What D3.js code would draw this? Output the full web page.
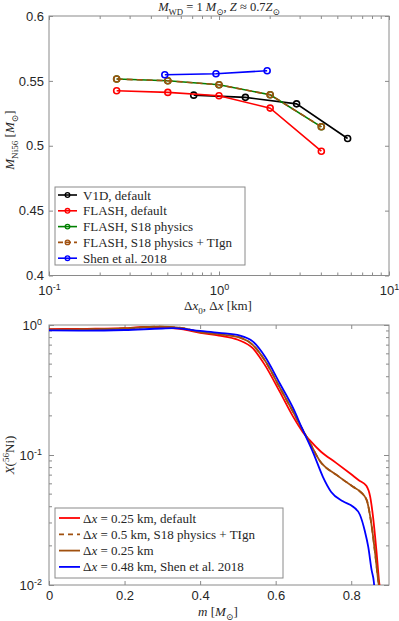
<!DOCTYPE html>
<meta charset="utf-8">
<script src="https://d3js.org/d3.v7.min.js"></script>
<style>
  body { margin: 0; background: #fff; }
  text { font-family: "Liberation Sans", Arial, sans-serif; }
  .tex { font-family: "Liberation Serif", "DejaVu Serif", serif; }
</style>
<div id="my_dataviz"></div>
<script>
// ---- top panel data : M_Ni56 vs resolution
var v1dRes = [0.71, 1.43, 2.86, 5.71];
var v1dNi = [0.539, 0.5373, 0.5323, 0.5056];
var flashRes = [0.25, 0.5, 1, 2, 4];
var flashDefaultNi = [0.5424, 0.5411, 0.5385, 0.529, 0.4958];
var flashS18Ni = [0.5514, 0.5501, 0.547, 0.5393, 0.5146];
var flashTIgnNi = [0.5514, 0.5501, 0.547, 0.5393, 0.5146];
var shenRes = [0.48, 0.96, 1.92];
var shenNi = [0.5547, 0.5555, 0.5578];
var topYTicks = [0.4, 0.45, 0.5, 0.55, 0.6];
var topXTicks = [0.1, 1, 10];

// ---- bottom panel data : X(56Ni) vs mass coordinate
var mDefault = [0, 0.1, 0.2, 0.25, 0.3, 0.35, 0.4, 0.45, 0.5, 0.54, 0.57, 0.61, 0.645, 0.672, 0.69, 0.72, 0.76, 0.8, 0.82, 0.84, 0.85, 0.858, 0.867, 0.874, 0.877];
var xDefault = [0.93, 0.935, 0.945, 0.965, 0.955, 0.93, 0.87, 0.83, 0.77, 0.66, 0.5, 0.31, 0.2, 0.15, 0.13, 0.106, 0.087, 0.071, 0.064, 0.058, 0.048, 0.033, 0.018, 0.0105, 0.009];
var mS18 = [0, 0.1, 0.2, 0.29, 0.35, 0.4, 0.45, 0.506, 0.54, 0.572, 0.611, 0.646, 0.672, 0.69, 0.717, 0.762, 0.805, 0.823, 0.841, 0.85, 0.856, 0.863, 0.872, 0.875];
var xS18 = [0.92, 0.925, 0.94, 0.97, 0.95, 0.88, 0.85, 0.8, 0.7, 0.53, 0.33, 0.215, 0.155, 0.125, 0.09, 0.07, 0.057, 0.0525, 0.045, 0.034, 0.026, 0.0178, 0.0105, 0.009];
var mTIgn = [0, 0.1, 0.2, 0.29, 0.35, 0.4, 0.45, 0.506, 0.54, 0.572, 0.611, 0.646, 0.672, 0.69, 0.717, 0.762, 0.805, 0.823, 0.841, 0.85, 0.856, 0.863, 0.872, 0.875];
var xTIgn = [0.92, 0.925, 0.94, 0.97, 0.95, 0.88, 0.85, 0.8, 0.7, 0.53, 0.33, 0.215, 0.155, 0.125, 0.09, 0.07, 0.057, 0.0525, 0.045, 0.034, 0.026, 0.0178, 0.0105, 0.009];
var mShen = [0, 0.1, 0.2, 0.3, 0.33, 0.4, 0.45, 0.506, 0.54, 0.572, 0.611, 0.646, 0.67, 0.7, 0.725, 0.747, 0.778, 0.805, 0.823, 0.836, 0.845, 0.854, 0.86, 0.862];
var xShen = [0.91, 0.905, 0.915, 0.94, 0.945, 0.9, 0.87, 0.83, 0.745, 0.57, 0.355, 0.23, 0.16, 0.103, 0.068, 0.052, 0.044, 0.04, 0.0347, 0.026, 0.0197, 0.013, 0.0105, 0.009];
var botXTicks = [0, 0.2, 0.4, 0.6, 0.8];
var botYTicks = [0.01, 0.1, 1];

var RED = "#ff0000", GREEN = "#008000", BROWN = "#a0500f", BLUE = "#0000ff", BLACK = "#000000";
var AX = "#8a8a8a", TXT = "#262626";

var svg = d3.select("#my_dataviz").append("svg")
  .attr("width", 399).attr("height", 621);

// rich text helper: segments [text, style] style: i italic, sub, sup
function rich(sel, segs, size) {
  segs.forEach(function(s) {
    var t = sel.append("tspan").text(s[0]);
    var st = s[1] || "";
    if (st.indexOf("i") >= 0) t.attr("font-style", "italic");
    if (st.indexOf("sub") >= 0) t.attr("font-size", size * 0.7).attr("dy", size * 0.28);
    if (st.indexOf("sup") >= 0) t.attr("font-size", size * 0.7).attr("dy", -size * 0.4);
    if (st.indexOf("back") >= 0) t.attr("dy", -size * 0.28);
    if (st.indexOf("down") >= 0) t.attr("dy", size * 0.4);
  });
}

function powLabel(sel) {
  sel.each(function(d) {
    var e = Math.round(Math.log10(d));
    var t = d3.select(this).text("");
    t.append("tspan").text("10");
    t.append("tspan").text(e).attr("font-size", 9).attr("dy", "-0.55em");
  });
}

// ================= TOP PANEL =================
var x1 = d3.scaleLog().domain([0.1, 10]).range([49, 389]);
var y1 = d3.scaleLinear().domain([0.4, 0.6]).range([275.5, 16]);

var g1 = svg.append("g");
var minor1 = [];
[0.1, 1].forEach(function(b) { for (var k = 2; k <= 9; k++) minor1.push(b * k); });

// minor ticks
g1.selectAll(".mnb").data(minor1).enter().append("line")
  .attr("x1", function(d) { return x1(d); }).attr("x2", function(d) { return x1(d); })
  .attr("y1", 275.5).attr("y2", 272.5).attr("stroke", AX);
g1.selectAll(".mnt").data(minor1).enter().append("line")
  .attr("x1", function(d) { return x1(d); }).attr("x2", function(d) { return x1(d); })
  .attr("y1", 16).attr("y2", 19).attr("stroke", AX);

var ax1b = g1.append("g").attr("transform", "translate(0,275.5)")
  .call(d3.axisBottom(x1).tickValues(topXTicks).tickSize(-4).tickPadding(10));
var ax1t = g1.append("g").attr("transform", "translate(0,16)")
  .call(d3.axisTop(x1).tickValues(topXTicks).tickSize(-4).tickFormat(""));
var ax1l = g1.append("g").attr("transform", "translate(49,0)")
  .call(d3.axisLeft(y1).tickValues(topYTicks).tickSize(-4).tickPadding(5).tickFormat(d3.format("")));
var ax1r = g1.append("g").attr("transform", "translate(389,0)")
  .call(d3.axisRight(y1).tickValues(topYTicks).tickSize(-4).tickFormat(""));
ax1b.selectAll(".tick text").call(powLabel);

[ax1b, ax1t, ax1l, ax1r].forEach(function(a) {
  a.select(".domain").remove();
  a.selectAll(".tick line").attr("stroke", AX);
  a.selectAll(".tick text").attr("fill", TXT).attr("font-size", 13)
    .attr("font-family", "Liberation Sans, Arial, sans-serif");
});
g1.append("rect").attr("x", 49).attr("y", 16).attr("width", 340).attr("height", 259.5)
  .attr("fill", "none").attr("stroke", AX);

function seriesTop(xs, ys, color, dash) {
  var pts = xs.map(function(d, i) { return [d, ys[i]]; });
  g1.append("path").datum(pts)
    .attr("d", d3.line().x(function(d) { return x1(d[0]); }).y(function(d) { return y1(d[1]); }))
    .attr("fill", "none").attr("stroke", color).attr("stroke-width", 1.6)
    .attr("stroke-dasharray", dash || null);
  g1.selectAll(null).data(pts).enter().append("circle")
    .attr("cx", function(d) { return x1(d[0]); }).attr("cy", function(d) { return y1(d[1]); })
    .attr("r", 3).attr("fill", "none").attr("stroke", color).attr("stroke-width", 1.6);
}
seriesTop(v1dRes, v1dNi, BLACK);
seriesTop(flashRes, flashDefaultNi, RED);
seriesTop(flashRes, flashS18Ni, GREEN);
seriesTop(flashRes, flashTIgnNi, BROWN, "6,4");
seriesTop(shenRes, shenNi, BLUE);

// title
var tt = svg.append("text").attr("class", "tex").attr("x", 219).attr("y", 11)
  .attr("text-anchor", "middle").attr("font-size", 12.5).attr("fill", TXT);
rich(tt, [["M", "i"], ["WD", "sub"], [" = 1 ", "back"], ["M", "i"], ["⊙", "sub"], [", ", "back"], ["Z", "i"], [" ≈ 0.7"], ["Z", "i"], ["⊙", "sub"]], 12.5);

// axis labels
var xl1 = svg.append("text").attr("class", "tex").attr("x", 218).attr("y", 310)
  .attr("text-anchor", "middle").attr("font-size", 13).attr("fill", TXT);
rich(xl1, [["Δ"], ["x", "i"], ["0", "sub"], [", Δ", "back"], ["x", "i"], [" [km]"]], 13);

var yl1 = svg.append("text").attr("class", "tex")
  .attr("transform", "translate(14,140) rotate(-90)")
  .attr("text-anchor", "middle").attr("font-size", 13).attr("fill", TXT);
rich(yl1, [["M", "i"], ["Ni56", "sub"], [" [", "back"], ["M", "i"], ["⊙", "sub"], ["]", "back"]], 13);

// legend top
var leg1 = [
  ["V1D, default", BLACK, null],
  ["FLASH, default", RED, null],
  ["FLASH, S18 physics", GREEN, null],
  ["FLASH, S18 physics + TIgn", BROWN, "5,3"],
  ["Shen et al. 2018", BLUE, null]
];
svg.append("rect").attr("x", 55).attr("y", 187).attr("width", 190).attr("height", 78)
  .attr("fill", "#fff").attr("stroke", AX);
leg1.forEach(function(d, i) {
  var yy = 195 + i * 15.8;
  svg.append("line").attr("x1", 58).attr("x2", 77).attr("y1", yy).attr("y2", yy)
    .attr("stroke", d[1]).attr("stroke-width", 1.6).attr("stroke-dasharray", d[2]);
  svg.append("circle").attr("cx", 67.5).attr("cy", yy).attr("r", 2.3)
    .attr("fill", "none").attr("stroke", d[1]).attr("stroke-width", 1.3);
  svg.append("text").attr("class", "tex").attr("x", 83).attr("y", yy + 4.5)
    .attr("font-size", 13).attr("fill", TXT).text(d[0]);
});

// ================= BOTTOM PANEL =================
var x2 = d3.scaleLinear().domain([0, 0.9]).range([49, 389]);
var y2 = d3.scaleLog().domain([0.01, 1]).range([585, 325]);
var g2 = svg.append("g");

var minor2 = [];
[0.01, 0.1].forEach(function(b) { for (var k = 2; k <= 9; k++) minor2.push(b * k); });
g2.selectAll(".ml").data(minor2).enter().append("line")
  .attr("x1", 49).attr("x2", 52).attr("y1", function(d) { return y2(d); }).attr("y2", function(d) { return y2(d); })
  .attr("stroke", AX);
g2.selectAll(".mr").data(minor2).enter().append("line")
  .attr("x1", 389).attr("x2", 386).attr("y1", function(d) { return y2(d); }).attr("y2", function(d) { return y2(d); })
  .attr("stroke", AX);

var ax2b = g2.append("g").attr("transform", "translate(0,585)")
  .call(d3.axisBottom(x2).tickValues(botXTicks).tickSize(-4).tickPadding(6).tickFormat(d3.format("")));
var ax2t = g2.append("g").attr("transform", "translate(0,325)")
  .call(d3.axisTop(x2).tickValues(botXTicks).tickSize(-4).tickFormat(""));
var ax2l = g2.append("g").attr("transform", "translate(49,0)")
  .call(d3.axisLeft(y2).tickValues(botYTicks).tickSize(-5).tickPadding(7));
var ax2r = g2.append("g").attr("transform", "translate(389,0)")
  .call(d3.axisRight(y2).tickValues(botYTicks).tickSize(-5).tickFormat(""));
ax2l.selectAll(".tick text").call(powLabel);
[ax2b, ax2t, ax2l, ax2r].forEach(function(a) {
  a.select(".domain").remove();
  a.selectAll(".tick line").attr("stroke", AX);
  a.selectAll(".tick text").attr("fill", TXT).attr("font-size", 13)
    .attr("font-family", "Liberation Sans, Arial, sans-serif");
});
g2.append("rect").attr("x", 49).attr("y", 325).attr("width", 340).attr("height", 260)
  .attr("fill", "none").attr("stroke", AX);

var clip = svg.append("clipPath").attr("id", "clip2").append("rect")
  .attr("x", 49).attr("y", 325).attr("width", 340).attr("height", 260);

function curveBot(ms, xs, color, dash) {
  var pts = ms.map(function(d, i) { return [d, xs[i]]; });
  g2.append("path").datum(pts).attr("clip-path", "url(#clip2)")
    .attr("d", d3.line().curve(d3.curveMonotoneX)
      .x(function(d) { return x2(d[0]); }).y(function(d) { return y2(d[1]); }))
    .attr("fill", "none").attr("stroke", color).attr("stroke-width", 1.8)
    .attr("stroke-dasharray", dash || null);
}
curveBot(mDefault, xDefault, RED);
curveBot(mS18, xS18, BROWN);
curveBot(mTIgn, xTIgn, BROWN, "6,4");
curveBot(mShen, xShen, BLUE);

var xl2 = svg.append("text").attr("class", "tex").attr("x", 218).attr("y", 616)
  .attr("text-anchor", "middle").attr("font-size", 13).attr("fill", TXT);
rich(xl2, [["m", "i"], [" ["], ["M", "i"], ["⊙", "sub"], ["]", "back"]], 13);

var yl2 = svg.append("text").attr("class", "tex")
  .attr("transform", "translate(14,455) rotate(-90)")
  .attr("text-anchor", "middle").attr("font-size", 13).attr("fill", TXT);
rich(yl2, [["X", "i"], ["("], ["56", "sup"], ["Ni)", "down"]], 13);

var leg2 = [
  [[["Δ"], ["x", "i"], [" = 0.25 km, default"]], RED, null],
  [[["Δ"], ["x", "i"], [" = 0.5 km, S18 physics + TIgn"]], BROWN, "5,4"],
  [[["Δ"], ["x", "i"], [" = 0.25 km"]], BROWN, null],
  [[["Δ"], ["x", "i"], [" = 0.48 km, Shen et al. 2018"]], BLUE, null]
];
svg.append("rect").attr("x", 55).attr("y", 508).attr("width", 228).attr("height", 70)
  .attr("fill", "#fff").attr("stroke", AX);
leg2.forEach(function(d, i) {
  var yy = 518 + i * 16.3;
  svg.append("line").attr("x1", 59).attr("x2", 80).attr("y1", yy).attr("y2", yy)
    .attr("stroke", d[1]).attr("stroke-width", 1.8).attr("stroke-dasharray", d[2]);
  var t = svg.append("text").attr("class", "tex").attr("x", 83).attr("y", yy + 4.5)
    .attr("font-size", 13).attr("fill", TXT);
  rich(t, d[0], 13);
});
</script>
